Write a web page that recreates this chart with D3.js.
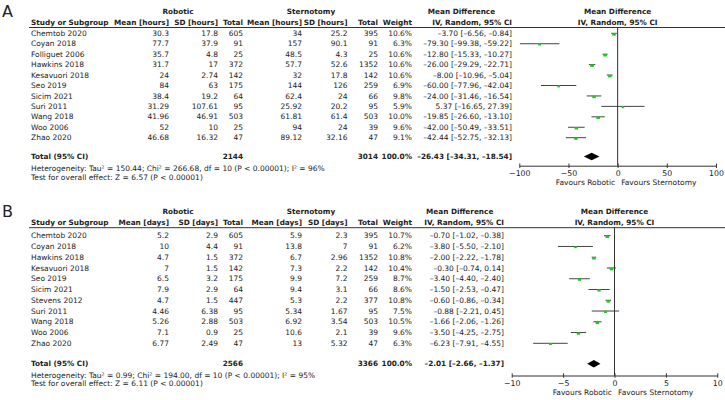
<!DOCTYPE html>
<html><head><meta charset="utf-8">
<script src="https://cdn.jsdelivr.net/npm/d3@7"></script>
<style>
html,body{margin:0;padding:0;background:#fff;}
svg{display:block;font-family:"DejaVu Sans",sans-serif;}
</style></head>
<body><svg id="c" width="725" height="400"></svg>
<script>
// ---------- Panel A: hours ----------
const studiesA = ["Chemtob 2020","Coyan 2018","Folliguet 2006","Hawkins 2018","Kesavuori 2018","Seo 2019","Sicim 2021","Suri 2011","Wang 2018","Woo 2006","Zhao 2020"];
const robMeanA = ["30.3","77.7","35.7","31.7","24","84","38.4","31.29","41.96","52","46.68"];
const robSdA   = ["17.8","37.9","4.8","17","2.74","63","19.2","107.61","46.91","10","16.32"];
const robNA    = [605,91,25,372,142,175,64,95,503,25,47];
const stMeanA  = ["34","157","48.5","57.7","32","144","62.4","25.92","61.81","94","89.12"];
const stSdA    = ["25.2","90.1","4.3","52.6","17.8","126","24","20.2","61.4","24","32.16"];
const stNA     = [395,91,25,1352,142,259,66,95,503,39,47];
const weightA  = [10.6,6.3,10.6,10.6,10.6,6.9,9.8,5.9,10.0,9.6,9.1];
const mdA      = [-3.70,-79.30,-12.80,-26.00,-8.00,-60.00,-24.00,5.37,-19.85,-42.00,-42.44];
const loA      = [-6.56,-99.38,-15.33,-29.29,-10.96,-77.96,-31.46,-16.65,-26.60,-50.49,-52.75];
const hiA      = [-0.84,-59.22,-10.27,-22.71,-5.04,-42.04,-16.54,27.39,-13.10,-33.51,-32.13];
const totalA   = {robN:2144, stN:3014, md:-26.43, lo:-34.31, hi:-18.54};
const hetA     = "Heterogeneity: Tau² = 150.44; Chi² = 266.68, df = 10 (P < 0.00001); I² = 96%";
const testA    = "Test for overall effect: Z = 6.57 (P < 0.00001)";
const ticksA   = [-100,-50,0,50,100];

// ---------- Panel B: days ----------
const studiesB = ["Chemtob 2020","Coyan 2018","Hawkins 2018","Kesavuori 2018","Seo 2019","Sicim 2021","Stevens 2012","Suri 2011","Wang 2018","Woo 2006","Zhao 2020"];
const robMeanB = ["5.2","10","4.7","7","6.5","7.9","4.7","4.46","5.26","7.1","6.77"];
const robSdB   = ["2.9","4.4","1.5","1.5","3.2","2.9","1.5","6.38","2.88","0.9","2.49"];
const robNB    = [605,91,372,142,175,64,447,95,503,25,47];
const stMeanB  = ["5.9","13.8","6.7","7.3","9.9","9.4","5.3","5.34","6.92","10.6","13"];
const stSdB    = ["2.3","7","2.96","2.2","7.2","3.1","2.2","1.67","3.54","2.1","5.32"];
const stNB     = [395,91,1352,142,259,66,377,95,503,39,47];
const weightB  = [10.7,6.2,10.8,10.4,8.7,8.6,10.8,7.5,10.5,9.6,6.3];
const mdB      = [-0.70,-3.80,-2.00,-0.30,-3.40,-1.50,-0.60,-0.88,-1.66,-3.50,-6.23];
const loB      = [-1.02,-5.50,-2.22,-0.74,-4.40,-2.53,-0.86,-2.21,-2.06,-4.25,-7.91];
const hiB      = [-0.38,-2.10,-1.78,0.14,-2.40,-0.47,-0.34,0.45,-1.26,-2.75,-4.55];
const totalB   = {robN:2566, stN:3366, md:-2.01, lo:-2.66, hi:-1.37};
const hetB     = "Heterogeneity: Tau² = 0.99; Chi² = 194.00, df = 10 (P < 0.00001); I² = 95%";
const testB    = "Test for overall effect: Z = 6.11 (P < 0.00001)";
const ticksB   = [-10,-5,0,5,10];

const svg = d3.select("#c");
const FS = 7.5;
const FSB = 7.3;
const TXT = "#222";

function fmt(v){ return (v<0?"\u2013":"") + Math.abs(v).toFixed(2); }
function ci(m,l,h){ return fmt(m)+" ["+fmt(l)+", "+fmt(h)+"]"; }

function panel(o){
  const g = svg.append("g");
  const n = o.studies.length;
  const rowY = d3.scaleLinear().domain([0,n-1]).range([o.row0,o.rowN]);
  const x = d3.scaleLinear().domain(o.domain).range(o.xr);
  const t = (xx,yy,s,anchor,bold)=>g.append("text").attr("x",xx).attr("y",yy).attr("dy","0.35em")
     .attr("text-anchor",anchor||"start").attr("font-size",bold?FSB:FS).attr("fill",TXT)
     .attr("font-weight",bold?"bold":"normal").text(s);

  g.append("text").attr("x",2).attr("y",o.labelY).attr("font-size",16).attr("fill",TXT).text(o.label);

  // headers
  t(178,o.h1,"Robotic","middle",true);
  t(311,o.h1,"Sternotomy","middle",true);
  t(o.ciHeadX,o.h1,"Mean Difference","middle",true);
  t(x(0),o.h1,"Mean Difference","middle",true);
  t(31,o.h2,"Study or Subgroup","start",true);
  t(169,o.h2,"Mean ["+o.unit+"]","end",true);
  t(218,o.h2,"SD ["+o.unit+"]","end",true);
  t(243,o.h2,"Total","end",true);
  t(302,o.h2,"Mean ["+o.unit+"]","end",true);
  t(347.5,o.h2,"SD ["+o.unit+"]","end",true);
  t(378,o.h2,"Total","end",true);
  t(412,o.h2,"Weight","end",true);
  t(o.ciRight,o.h2,"IV, Random, 95% CI","end",true);
  t(x(0),o.h2,"IV, Random, 95% CI","middle",true);
  g.append("line").attr("x1",29).attr("x2",725).attr("y1",o.hline).attr("y2",o.hline)
    .attr("stroke","#333").attr("stroke-width",1);

  // rows
  o.studies.forEach((s,i)=>{
    const y = rowY(i);
    t(31,y,s);
    t(169,y,o.rm[i],"end");
    t(218,y,o.rs[i],"end");
    t(243,y,o.rn[i],"end");
    t(302,y,o.sm[i],"end");
    t(347.5,y,o.ss[i],"end");
    t(378,y,o.sn[i],"end");
    t(412,y,o.w[i].toFixed(1)+"%","end");
    t(o.ciRight,y,ci(o.md[i],o.lo[i],o.hi[i]),"end");
    g.append("line").attr("x1",x(o.lo[i])).attr("x2",x(o.hi[i])).attr("y1",y).attr("y2",y)
      .attr("stroke","#444").attr("stroke-width",1);
    const sz = 3.6*Math.sqrt(o.w[i]/10.6);
    g.append("rect").attr("x",x(o.md[i])-sz/2).attr("y",y-0.2).attr("width",sz).attr("height",sz*0.7)
      .attr("fill","#1ec81e");
  });

  // total
  const ty = o.totalY;
  t(31,ty,"Total (95% CI)","start",true);
  t(243,ty,o.total.robN,"end",true);
  t(378,ty,o.total.stN,"end",true);
  t(412,ty,"100.0%","end",true);
  t(o.ciRight,ty,ci(o.total.md,o.total.lo,o.total.hi),"end",true);
  g.append("path").attr("d",`M${x(o.total.lo)},${ty} L${x(o.total.md)},${ty-3.8} L${x(o.total.hi)},${ty} L${x(o.total.md)},${ty+3.8} Z`)
    .attr("fill","#000");
  t(31,o.hetY,o.het);
  t(31,o.testY,o.test);

  // zero line
  g.append("line").attr("x1",x(0)).attr("x2",x(0)).attr("y1",o.hline).attr("y2",o.axisY)
    .attr("stroke","#333").attr("stroke-width",1);

  // axis
  const ax = g.append("g").attr("transform",`translate(0,${o.axisY})`)
    .call(d3.axisBottom(x).tickValues(o.ticks).tickSize(2.2).tickSizeOuter(0).tickPadding(2.5));
  ax.select(".domain").attr("stroke","#333");
  ax.selectAll(".tick line").attr("y1",-2.2).attr("stroke","#333");
  ax.selectAll(".tick text").attr("font-size",FS+0.3).attr("fill",TXT).attr("font-family","DejaVu Sans");
  t(x(0)-2.5,o.axisY+17,"Favours Robotic","end");
  t(x(0)+3.5,o.axisY+17,"Favours Sternotomy","start");
}

panel({label:"A",labelY:17,unit:"hours",studies:studiesA,rm:robMeanA,rs:robSdA,rn:robNA,sm:stMeanA,ss:stSdA,sn:stNA,
  w:weightA,md:mdA,lo:loA,hi:hiA,total:totalA,het:hetA,test:testA,ticks:ticksA,domain:[-100,100],xr:[519.3,716],
  h1:11.7,h2:22.5,hline:27.5,row0:33.3,rowN:137.7,totalY:156.5,hetY:168.5,testY:177.8,axisY:165.7,ciRight:512,ciHeadX:461.5});
panel({label:"B",labelY:217,unit:"days",studies:studiesB,rm:robMeanB,rs:robSdB,rn:robNB,sm:stMeanB,ss:stSdB,sn:stNB,
  w:weightB,md:mdB,lo:loB,hi:hiB,total:totalB,het:hetB,test:testB,ticks:ticksB,domain:[-10,10],xr:[511.7,717.3],
  h1:211.7,h2:222.3,hline:227.7,row0:235.7,rowN:343.3,totalY:363.8,hetY:375,testY:383.5,axisY:375.5,ciRight:504,ciHeadX:459.7});
</script></body></html>
